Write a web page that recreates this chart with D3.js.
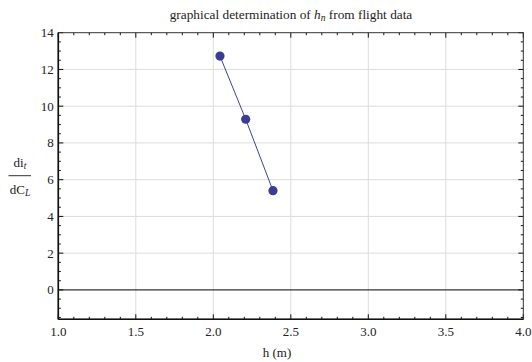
<!DOCTYPE html>
<meta charset="utf-8">
<head>
  <title>graphical determination of h_n</title>
</head>

<style>
body {
  margin: 0;
  background: #fff;
}
text {
  font-family: "Liberation Serif", "DejaVu Serif", serif;
  fill: #222;
}
</style>

<body>
  <div id="content">
    <svg width="532" height="362"></svg>
  </div>

  <script src="https://cdnjs.cloudflare.com/ajax/libs/d3/7.8.5/d3.min.js"></script>

  <script>
// data
var hValues = [2.043, 2.209, 2.385];
var slopeValues = [12.73, 9.29, 5.40];
var xTicks = [1.0, 1.5, 2.0, 2.5, 3.0, 3.5, 4.0];
var yTicks = [0, 2, 4, 6, 8, 10, 12, 14];

var points = hValues.map(function(h, i) { return {h: h, v: slopeValues[i]}; });

var svg = d3.select('#content svg');
var plotLeft = 58.3, plotRight = 523.3, plotTop = 32.7, plotBottom = 319.3;

var x = d3.scaleLinear().domain([1, 4]).range([plotLeft, plotRight]);
var y = d3.scaleLinear().domain([-1.6, 14]).range([plotBottom, plotTop]);

// Grid
svg.append('g').selectAll('line')
  .data(xTicks.slice(1, -1))
  .enter().append('line')
  .attr('x1', d => x(d)).attr('x2', d => x(d))
  .attr('y1', plotTop).attr('y2', plotBottom)
  .attr('stroke', '#dcdcdc').attr('stroke-width', 1);

svg.append('g').selectAll('line')
  .data(yTicks.filter(d => d !== 0 && d !== 14))
  .enter().append('line')
  .attr('x1', plotLeft).attr('x2', plotRight)
  .attr('y1', d => y(d)).attr('y2', d => y(d))
  .attr('stroke', '#dcdcdc').attr('stroke-width', 1);

// zero line
svg.append('line')
  .attr('x1', plotLeft).attr('x2', plotRight)
  .attr('y1', y(0)).attr('y2', y(0))
  .attr('stroke', '#333').attr('stroke-width', 1.1);

// Axes with inward ticks
var xMinor = d3.range(1.1, 4.0, 0.1).filter(v => Math.abs(v * 2 - Math.round(v * 2)) > 0.01);
var yMinor = d3.range(-1.5, 14, 0.5).filter(v => Math.abs(v / 2 - Math.round(v / 2)) > 0.01);

function xAxis(g, isBottom) {
  var s = isBottom ? -1 : 1;
  g.selectAll('line.maj').data(xTicks).enter().append('line').attr('class', 'maj')
    .attr('x1', d => x(d)).attr('x2', d => x(d))
    .attr('y1', 0).attr('y2', s * 5);
  g.selectAll('line.min').data(xMinor).enter().append('line').attr('class', 'min')
    .attr('x1', d => x(d)).attr('x2', d => x(d))
    .attr('y1', 0).attr('y2', s * 2.5);
  g.selectAll('line').attr('stroke', '#111').attr('stroke-width', 1);
}
function yAxis(g, isLeft) {
  var s = isLeft ? 1 : -1;
  g.selectAll('line.maj').data(yTicks).enter().append('line').attr('class', 'maj')
    .attr('y1', d => y(d)).attr('y2', d => y(d))
    .attr('x1', 0).attr('x2', s * 5);
  g.selectAll('line.min').data(yMinor).enter().append('line').attr('class', 'min')
    .attr('y1', d => y(d)).attr('y2', d => y(d))
    .attr('x1', 0).attr('x2', s * 2.5);
  g.selectAll('line').attr('stroke', '#111').attr('stroke-width', 1);
}

svg.append('g').attr('transform', 'translate(0,' + plotBottom + ')').call(xAxis, true);
svg.append('g').attr('transform', 'translate(0,' + plotTop + ')').call(xAxis, false);
svg.append('g').attr('transform', 'translate(' + plotLeft + ',0)').call(yAxis, true);
svg.append('g').attr('transform', 'translate(' + plotRight + ',0)').call(yAxis, false);

// frame
svg.append('rect')
  .attr('x', plotLeft).attr('y', plotTop)
  .attr('width', plotRight - plotLeft).attr('height', plotBottom - plotTop)
  .attr('fill', 'none').attr('stroke', '#333').attr('stroke-width', 1);
svg.append('line').attr('x1', plotLeft).attr('x2', plotRight).attr('y1', plotBottom).attr('y2', plotBottom)
  .attr('stroke', '#111').attr('stroke-width', 1.6);
svg.append('line').attr('x1', plotLeft).attr('x2', plotLeft).attr('y1', plotTop).attr('y2', plotBottom)
  .attr('stroke', '#111').attr('stroke-width', 1.6);

// tick labels
svg.append('g').selectAll('text').data(xTicks).enter().append('text')
  .attr('x', d => x(d)).attr('y', plotBottom + 16.5)
  .attr('text-anchor', 'middle')
  .style('font-size', '13px')
  .text(d => d.toFixed(1));

svg.append('g').selectAll('text').data(yTicks).enter().append('text')
  .attr('x', plotLeft - 4.5).attr('y', d => y(d) + 4.5)
  .attr('text-anchor', 'end')
  .style('font-size', '13px')
  .text(d => d);

// line + points
var line = d3.line().x(d => x(d.h)).y(d => y(d.v));
svg.append('path').datum(points)
  .attr('d', line)
  .attr('fill', 'none')
  .attr('stroke', '#4040a0').attr('stroke-width', 1);

svg.append('g').selectAll('circle').data(points).enter().append('circle')
  .attr('cx', d => x(d.h)).attr('cy', d => y(d.v))
  .attr('r', 4.6)
  .attr('fill', '#3b3b98');

// title
var title = svg.append('text')
  .attr('x', 291).attr('y', 19)
  .attr('text-anchor', 'middle')
  .style('font-size', '13.3px');
title.append('tspan').text('graphical determination of ');
title.append('tspan').style('font-style', 'italic').text('h');
title.append('tspan').style('font-style', 'italic').style('font-size', '9.5px').attr('dy', 2).text('n');
title.append('tspan').attr('dy', -2).text(' from flight data');

// x label
svg.append('text')
  .attr('x', 277).attr('y', 357)
  .attr('text-anchor', 'middle')
  .style('font-size', '13px')
  .text('h (m)');

// y label as a fraction
var num = svg.append('text').attr('x', 20).attr('y', 167).attr('text-anchor', 'middle').style('font-size', '13px');
num.append('tspan').text('di');
num.append('tspan').style('font-style', 'italic').style('font-size', '9.5px').attr('dy', 2).text('t');
svg.append('line').attr('x1', 8.5).attr('x2', 31).attr('y1', 175.7).attr('y2', 175.7)
  .attr('stroke', '#333').attr('stroke-width', 1);
var den = svg.append('text').attr('x', 20).attr('y', 194).attr('text-anchor', 'middle').style('font-size', '13px');
den.append('tspan').text('dC');
den.append('tspan').style('font-style', 'italic').style('font-size', '9.5px').attr('dy', 2).text('L');
  </script>
</body>
</html>
